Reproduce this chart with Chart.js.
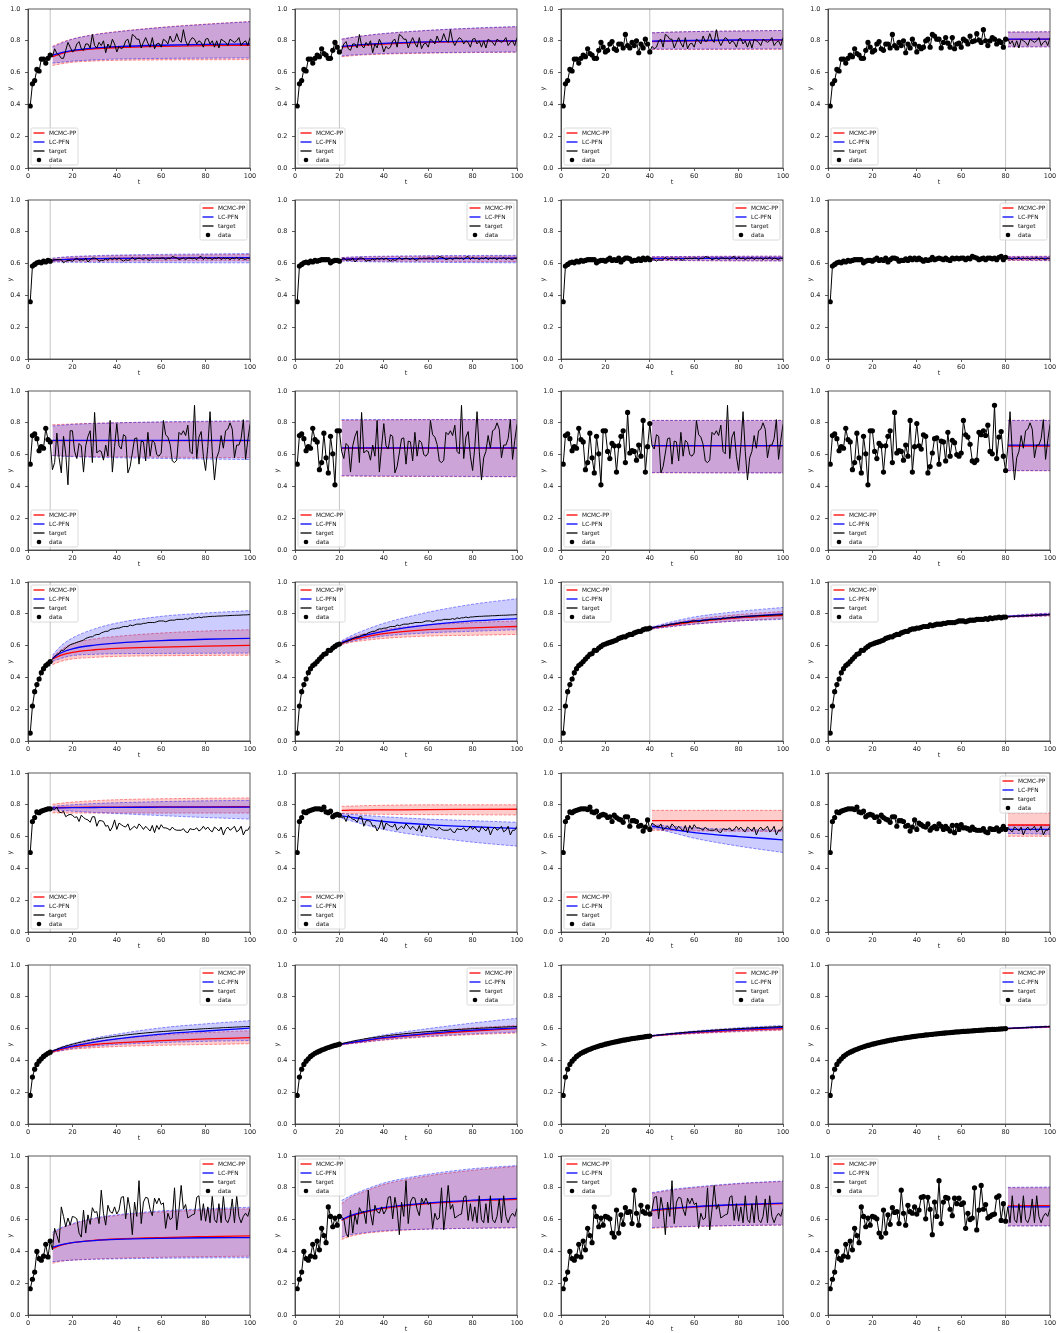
<!DOCTYPE html>
<html><head><meta charset="utf-8">
<script src="https://cdn.jsdelivr.net/npm/chart.js@4.4.1/dist/chart.umd.min.js"></script>
<style>
html,body{margin:0;padding:0;background:#fff;}
#fig{position:relative;width:1058px;height:1333px;overflow:hidden;}
canvas{position:absolute;}
</style></head><body><div id="fig"></div>
<script>
// ---------------- data ----------------
const cutoffs = [10, 20, 40, 80];
const predT = [[11,15,20,30,40,60,80,100],[21,25,30,40,60,80,100],[41,50,60,80,100],[81,90,100]];
const xTicks = [0, 20, 40, 60, 80, 100];
const yTicks = [0, 0.2, 0.4, 0.6, 0.8, 1.0];
const seriesNames = ['MCMC-PP', 'LC-PFN', 'target', 'data'];

const target1 = [0.39,0.53,0.55,0.62,0.61,0.685,0.685,0.66,0.69,0.71,
0.70,0.75,0.72,0.71,0.69,0.69,0.74,0.79,0.76,0.73,
0.74,0.78,0.795,0.75,0.74,0.78,0.78,0.755,0.84,0.77,
0.755,0.79,0.77,0.80,0.725,0.78,0.755,0.81,0.78,0.73,
0.765,0.75,0.76,0.80,0.81,0.76,0.84,0.83,0.81,0.81,
0.755,0.79,0.82,0.785,0.76,0.82,0.75,0.78,0.785,0.76,
0.81,0.80,0.78,0.83,0.795,0.80,0.845,0.805,0.79,0.87,
0.80,0.77,0.80,0.82,0.81,0.78,0.80,0.79,0.76,0.81,
0.815,0.78,0.80,0.76,0.80,0.755,0.81,0.80,0.79,0.77,
0.81,0.80,0.79,0.80,0.82,0.77,0.79,0.80,0.77,0.82];
const target2 = [0.36,0.585,0.595,0.605,0.61,0.605,0.615,0.61,0.62,0.615,
0.62,0.625,0.625,0.625,0.625,0.605,0.615,0.62,0.62,0.615,
0.625,0.635,0.62,0.625,0.62,0.635,0.61,0.625,0.635,0.635,
0.63,0.615,0.62,0.62,0.63,0.62,0.635,0.625,0.635,0.625,
0.635,0.625,0.615,0.625,0.62,0.625,0.64,0.625,0.63,0.635,
0.63,0.625,0.635,0.625,0.62,0.635,0.63,0.635,0.63,0.635,
0.635,0.625,0.635,0.63,0.645,0.64,0.635,0.625,0.63,0.635,
0.625,0.635,0.635,0.63,0.635,0.625,0.64,0.645,0.625,0.64,
0.63,0.635,0.625,0.635,0.63,0.64,0.625,0.635,0.63,0.635,
0.625,0.635,0.63,0.64,0.625,0.635,0.63,0.625,0.635,0.63];
const target3 = [0.54,0.72,0.73,0.70,0.625,0.65,0.64,0.765,0.695,0.68,
0.505,0.55,0.735,0.58,0.485,0.715,0.605,0.41,0.75,0.75,
0.62,0.575,0.67,0.655,0.49,0.655,0.715,0.75,0.55,0.865,
0.61,0.625,0.62,0.565,0.66,0.59,0.815,0.49,0.65,0.795,
0.655,0.635,0.725,0.715,0.485,0.525,0.61,0.70,0.705,0.54,
0.685,0.68,0.56,0.74,0.59,0.69,0.675,0.60,0.59,0.61,
0.815,0.725,0.71,0.665,0.56,0.55,0.565,0.74,0.725,0.75,
0.72,0.785,0.62,0.605,0.91,0.575,0.71,0.745,0.59,0.50,
0.65,0.87,0.62,0.44,0.58,0.62,0.72,0.64,0.75,0.76,
0.80,0.76,0.58,0.66,0.66,0.70,0.82,0.57,0.69,0.79];
const target4 = [0.05,0.22,0.31,0.355,0.39,0.43,0.455,0.475,0.485,0.50,
0.515,0.53,0.545,0.55,0.57,0.57,0.585,0.595,0.605,0.61,
0.615,0.62,0.625,0.63,0.635,0.645,0.65,0.655,0.655,0.665,
0.67,0.67,0.68,0.685,0.69,0.69,0.70,0.705,0.705,0.71,
0.71,0.715,0.72,0.72,0.72,0.73,0.725,0.73,0.735,0.735,
0.735,0.74,0.74,0.745,0.745,0.745,0.745,0.75,0.755,0.755,
0.755,0.75,0.755,0.76,0.76,0.76,0.765,0.765,0.765,0.765,
0.77,0.765,0.775,0.77,0.775,0.775,0.78,0.775,0.78,0.78,
0.782,0.783,0.784,0.784,0.785,0.786,0.786,0.787,0.788,0.788,
0.789,0.79,0.79,0.791,0.791,0.792,0.793,0.793,0.794,0.795];
const target5 = [0.50,0.695,0.72,0.755,0.75,0.76,0.765,0.77,0.775,0.775,
0.775,0.77,0.785,0.755,0.75,0.76,0.725,0.735,0.74,0.735,
0.72,0.725,0.695,0.735,0.72,0.71,0.705,0.69,0.725,0.725,
0.665,0.70,0.70,0.695,0.665,0.67,0.635,0.66,0.705,0.645,
0.685,0.675,0.665,0.66,0.68,0.64,0.655,0.665,0.65,0.68,
0.665,0.645,0.665,0.65,0.635,0.67,0.625,0.67,0.645,0.675,
0.655,0.655,0.65,0.64,0.66,0.645,0.64,0.64,0.64,0.65,
0.63,0.625,0.65,0.645,0.645,0.655,0.635,0.645,0.665,0.645,
0.66,0.64,0.63,0.66,0.65,0.635,0.66,0.61,0.645,0.66,
0.64,0.65,0.665,0.63,0.64,0.665,0.61,0.64,0.64,0.665];
const target6 = [0.18,0.295,0.345,0.375,0.395,0.41,0.425,0.435,0.445,0.452,
0.458,0.465,0.47,0.476,0.481,0.486,0.49,0.494,0.498,0.502,
0.505,0.509,0.512,0.515,0.518,0.521,0.524,0.527,0.529,0.532,
0.534,0.537,0.539,0.541,0.543,0.545,0.547,0.549,0.551,0.553,
0.555,0.556,0.558,0.56,0.561,0.563,0.564,0.566,0.567,0.569,
0.57,0.571,0.573,0.574,0.575,0.576,0.578,0.579,0.58,0.581,
0.582,0.583,0.584,0.585,0.586,0.587,0.588,0.589,0.59,0.591,
0.592,0.593,0.594,0.595,0.595,0.596,0.597,0.598,0.599,0.6,
0.6,0.601,0.602,0.603,0.603,0.604,0.605,0.606,0.606,0.607,
0.608,0.608,0.609,0.61,0.61,0.611,0.612,0.612,0.613,0.613];
const target7 = [0.165,0.225,0.27,0.40,0.355,0.345,0.37,0.445,0.365,0.465,
0.41,0.545,0.50,0.455,0.68,0.62,0.555,0.61,0.565,0.62,
0.615,0.605,0.515,0.49,0.66,0.515,0.63,0.57,0.675,0.645,
0.65,0.575,0.785,0.64,0.565,0.69,0.65,0.64,0.68,0.635,
0.66,0.74,0.745,0.605,0.74,0.665,0.505,0.71,0.62,0.845,
0.575,0.71,0.74,0.735,0.665,0.625,0.735,0.70,0.735,0.695,
0.705,0.545,0.64,0.60,0.61,0.80,0.535,0.66,0.815,0.665,
0.695,0.61,0.62,0.63,0.635,0.74,0.75,0.595,0.70,0.59,
0.68,0.58,0.75,0.60,0.58,0.70,0.58,0.75,0.60,0.58,
0.62,0.73,0.58,0.75,0.62,0.58,0.62,0.64,0.62,0.67];
const targets = [target1, target2, target3, target4, target5, target6, target7];

// predictions: [row][col] -> values at predT[col]
const mcmcMean = [
 [[0.70,0.72,0.735,0.75,0.757,0.765,0.77,0.772],[0.76,0.765,0.772,0.78,0.79,0.795,0.798],[0.795,0.798,0.80,0.803,0.805],[0.808,0.809,0.81]],
 [[0.622,0.625,0.628,0.63,0.632,0.634,0.635,0.636],[0.628,0.629,0.63,0.631,0.632,0.633,0.633],[0.632,0.632,0.633,0.633,0.633],[0.632,0.632,0.632]],
 [[0.688,0.688,0.688,0.688,0.688,0.688,0.688,0.688],[0.64,0.64,0.64,0.64,0.64,0.64,0.64],[0.655,0.655,0.655,0.655,0.655],[0.654,0.654,0.654]],
 [[0.515,0.54,0.558,0.574,0.583,0.591,0.597,0.602],[0.615,0.635,0.65,0.675,0.70,0.712,0.72],[0.71,0.73,0.75,0.775,0.79],[0.782,0.788,0.795]],
 [[0.782,0.783,0.784,0.785,0.786,0.787,0.787,0.788],[0.765,0.766,0.767,0.768,0.77,0.771,0.772],[0.70,0.70,0.70,0.70,0.70],[0.673,0.673,0.673]],
 [[0.455,0.47,0.485,0.50,0.51,0.525,0.535,0.543],[0.502,0.51,0.52,0.54,0.565,0.585,0.60],[0.554,0.565,0.575,0.59,0.60],[0.60,0.606,0.611]],
 [[0.418,0.44,0.455,0.47,0.478,0.487,0.493,0.498],[0.595,0.62,0.64,0.67,0.70,0.718,0.728],[0.655,0.668,0.678,0.692,0.70],[0.686,0.687,0.688]]
];
const mcmcLo = [
 [[0.645,0.655,0.665,0.673,0.677,0.68,0.681,0.682],[0.70,0.705,0.71,0.716,0.722,0.726,0.728],[0.745,0.745,0.745,0.746,0.746],[0.762,0.762,0.762]],
 [[0.612,0.613,0.614,0.615,0.616,0.617,0.618,0.618],[0.618,0.617,0.616,0.615,0.614,0.613,0.612],[0.62,0.619,0.618,0.617,0.617],[0.62,0.619,0.618]],
 [[0.594,0.592,0.59,0.588,0.586,0.584,0.582,0.581],[0.465,0.465,0.464,0.463,0.462,0.461,0.46],[0.485,0.485,0.485,0.485,0.485],[0.498,0.498,0.498]],
 [[0.48,0.502,0.516,0.526,0.532,0.536,0.538,0.539],[0.605,0.62,0.63,0.645,0.66,0.665,0.67],[0.705,0.72,0.735,0.755,0.77],[0.778,0.782,0.787]],
 [[0.75,0.749,0.748,0.748,0.748,0.748,0.748,0.748],[0.745,0.744,0.742,0.74,0.738,0.737,0.736],[0.64,0.638,0.636,0.634,0.632],[0.602,0.602,0.602]],
 [[0.45,0.46,0.47,0.48,0.487,0.495,0.50,0.505],[0.498,0.505,0.512,0.527,0.548,0.562,0.572],[0.552,0.56,0.568,0.58,0.59],[0.599,0.603,0.607]],
 [[0.325,0.338,0.345,0.352,0.357,0.363,0.367,0.37],[0.475,0.495,0.51,0.525,0.54,0.545,0.548],[0.545,0.552,0.556,0.562,0.565],[0.56,0.561,0.562]]
];
const mcmcHi = [
 [[0.765,0.79,0.812,0.84,0.858,0.885,0.905,0.922],[0.81,0.82,0.83,0.845,0.865,0.878,0.888],[0.85,0.855,0.858,0.862,0.865],[0.855,0.856,0.857]],
 [[0.632,0.638,0.642,0.647,0.65,0.653,0.655,0.657],[0.638,0.64,0.642,0.644,0.646,0.647,0.648],[0.643,0.644,0.645,0.646,0.646],[0.645,0.646,0.647]],
 [[0.788,0.79,0.793,0.797,0.80,0.804,0.807,0.81],[0.815,0.816,0.817,0.818,0.82,0.82,0.82],[0.815,0.815,0.815,0.815,0.815],[0.815,0.815,0.815]],
 [[0.53,0.575,0.612,0.642,0.658,0.679,0.692,0.70],[0.625,0.65,0.67,0.70,0.73,0.745,0.755],[0.715,0.74,0.765,0.795,0.815],[0.785,0.795,0.803]],
 [[0.803,0.81,0.817,0.826,0.832,0.838,0.841,0.843],[0.79,0.792,0.794,0.797,0.80,0.80,0.80],[0.765,0.765,0.765,0.765,0.765],[0.748,0.748,0.748]],
 [[0.46,0.48,0.495,0.52,0.535,0.56,0.575,0.587],[0.505,0.515,0.527,0.55,0.58,0.605,0.62],[0.556,0.57,0.582,0.60,0.612],[0.602,0.609,0.616]],
 [[0.505,0.545,0.57,0.605,0.625,0.648,0.66,0.668],[0.70,0.74,0.77,0.82,0.875,0.91,0.935],[0.765,0.785,0.80,0.825,0.84],[0.80,0.80,0.80]]
];
const pfnMean = [
 [[0.71,0.725,0.74,0.755,0.763,0.772,0.777,0.78],[0.765,0.77,0.776,0.784,0.793,0.798,0.80],[0.798,0.80,0.802,0.805,0.806],[0.81,0.81,0.81]],
 [[0.622,0.625,0.628,0.631,0.633,0.635,0.636,0.637],[0.628,0.629,0.63,0.631,0.632,0.633,0.634],[0.632,0.633,0.633,0.634,0.634],[0.633,0.633,0.633]],
 [[0.69,0.69,0.69,0.69,0.69,0.69,0.69,0.69],[0.642,0.642,0.642,0.642,0.642,0.642,0.642],[0.656,0.656,0.656,0.656,0.656],[0.66,0.66,0.66]],
 [[0.52,0.555,0.58,0.603,0.616,0.631,0.64,0.646],[0.62,0.64,0.66,0.69,0.73,0.755,0.77],[0.712,0.735,0.755,0.78,0.80],[0.783,0.789,0.796]],
 [[0.78,0.781,0.782,0.783,0.784,0.785,0.786,0.786],[0.73,0.722,0.712,0.695,0.675,0.662,0.652],[0.665,0.645,0.625,0.60,0.58],[0.645,0.645,0.645]],
 [[0.458,0.475,0.49,0.515,0.535,0.565,0.585,0.603],[0.503,0.512,0.522,0.543,0.57,0.59,0.605],[0.555,0.567,0.578,0.595,0.608],[0.601,0.607,0.612]],
 [[0.425,0.442,0.455,0.468,0.475,0.482,0.486,0.487],[0.60,0.625,0.645,0.675,0.705,0.722,0.733],[0.66,0.672,0.682,0.695,0.703],[0.68,0.68,0.68]]
];
const pfnLo = [
 [[0.66,0.665,0.672,0.68,0.685,0.689,0.691,0.692],[0.705,0.71,0.714,0.72,0.725,0.728,0.73],[0.748,0.748,0.748,0.749,0.75],[0.762,0.762,0.762]],
 [[0.61,0.609,0.608,0.607,0.606,0.606,0.605,0.605],[0.616,0.614,0.612,0.61,0.608,0.606,0.605],[0.621,0.62,0.619,0.618,0.617],[0.622,0.621,0.62]],
 [[0.594,0.59,0.587,0.583,0.58,0.576,0.572,0.569],[0.468,0.467,0.466,0.465,0.464,0.463,0.462],[0.488,0.487,0.486,0.485,0.485],[0.50,0.50,0.50]],
 [[0.50,0.52,0.537,0.545,0.549,0.551,0.552,0.553],[0.61,0.625,0.64,0.66,0.68,0.69,0.70],[0.705,0.72,0.735,0.755,0.765],[0.779,0.783,0.788]],
 [[0.768,0.765,0.76,0.752,0.745,0.732,0.72,0.71],[0.715,0.70,0.68,0.645,0.60,0.565,0.54],[0.655,0.625,0.59,0.54,0.50],[0.62,0.618,0.615]],
 [[0.452,0.462,0.475,0.49,0.50,0.512,0.52,0.525],[0.498,0.505,0.513,0.53,0.552,0.567,0.578],[0.553,0.562,0.57,0.584,0.594],[0.599,0.604,0.608]],
 [[0.335,0.34,0.345,0.35,0.353,0.357,0.359,0.36],[0.49,0.505,0.515,0.53,0.54,0.545,0.55],[0.55,0.555,0.558,0.563,0.566],[0.56,0.56,0.56]]
];
const pfnHi = [
 [[0.76,0.785,0.81,0.838,0.856,0.883,0.903,0.92],[0.81,0.82,0.83,0.846,0.866,0.88,0.89],[0.85,0.855,0.858,0.862,0.865],[0.855,0.856,0.857]],
 [[0.634,0.64,0.645,0.65,0.654,0.658,0.661,0.663],[0.638,0.641,0.644,0.647,0.65,0.651,0.652],[0.643,0.644,0.645,0.646,0.647],[0.643,0.644,0.645]],
 [[0.78,0.785,0.79,0.796,0.80,0.806,0.81,0.813],[0.82,0.82,0.82,0.82,0.82,0.82,0.82],[0.815,0.815,0.815,0.815,0.815],[0.815,0.815,0.815]],
 [[0.54,0.60,0.648,0.705,0.742,0.784,0.805,0.82],[0.63,0.66,0.69,0.74,0.81,0.86,0.895],[0.718,0.75,0.78,0.815,0.84],[0.787,0.797,0.805]],
 [[0.79,0.795,0.80,0.808,0.813,0.82,0.825,0.828],[0.745,0.74,0.735,0.725,0.71,0.70,0.69],[0.675,0.665,0.655,0.645,0.64],[0.668,0.67,0.672]],
 [[0.462,0.485,0.505,0.54,0.565,0.605,0.63,0.65],[0.506,0.518,0.532,0.56,0.60,0.635,0.665],[0.557,0.572,0.585,0.605,0.62],[0.603,0.61,0.617]],
 [[0.52,0.55,0.575,0.61,0.63,0.655,0.668,0.678],[0.72,0.75,0.78,0.83,0.885,0.92,0.94],[0.77,0.79,0.805,0.828,0.843],[0.803,0.804,0.805]]
];

// legend placement per panel (style)
const legendLoc = [
 ['ll','ll','ll','ll'],
 ['ur','ur','ur','ur'],
 ['ll','ll','ll','ll'],
 ['ul','ul','ul','ul'],
 ['ll','ll','ll','ur'],
 ['ur','ur','ur','ur'],
 ['ur','ul','ul','ul']
];

// ---------------- drawing ----------------
const FONT = 'DejaVu Sans';
const RED = '#ff0000', BLUE = '#0000ff';

const framePlugin = {
  id: 'frame',
  afterDatasetsDraw(chart) {
    const {ctx, chartArea: a} = chart;
    ctx.save();
    ctx.strokeStyle = '#333';
    ctx.lineWidth = 0.8;
    ctx.strokeRect(a.left, a.top, a.right - a.left, a.bottom - a.top);
    ctx.restore();
  }
};

const boxLegend = {
  id: 'boxLegend',
  afterDraw(chart, args, opts) {
    const {ctx, chartArea: a} = chart;
    const w = 47, h = 37, m = 3;
    const x = opts.loc[1] === 'l' ? a.left + m : a.right - m - w;
    const y = opts.loc[0] === 'u' ? a.top + m : a.bottom - m - h;
    ctx.save();
    ctx.fillStyle = 'rgba(255,255,255,0.8)';
    ctx.strokeStyle = '#d0d0d0';
    ctx.lineWidth = 0.8;
    ctx.beginPath();
    if (ctx.roundRect) ctx.roundRect(x, y, w, h, 1.5); else ctx.rect(x, y, w, h);
    ctx.fill(); ctx.stroke();
    const colors = [RED, BLUE, '#000', '#000'];
    ctx.font = '5.8px "' + FONT + '"';
    ctx.textBaseline = 'middle';
    ctx.textAlign = 'left';
    seriesNames.forEach((name, i) => {
      const yy = y + 5 + i * 9;
      ctx.strokeStyle = colors[i];
      ctx.fillStyle = colors[i];
      if (i < 3) {
        ctx.lineWidth = 1.3;
        ctx.beginPath(); ctx.moveTo(x + 2.5, yy); ctx.lineTo(x + 13.5, yy); ctx.stroke();
      } else {
        ctx.beginPath(); ctx.arc(x + 8, yy, 2.3, 0, Math.PI * 2); ctx.fill();
      }
      ctx.fillStyle = '#111';
      ctx.fillText(name, x + 18, yy + 0.3);
    });
    ctx.restore();
  }
};

const fig = document.getElementById('fig');

function pts(arr, r, c) {
  return arr[r][c].map((v, i) => ({x: predT[c][i], y: v}));
}

function makeChart(r, c) {
  const W = 266, H = 191;
  const cv = document.createElement('canvas');
  cv.width = W; cv.height = H;
  cv.style.width = W + 'px'; cv.style.height = H + 'px';
  cv.style.left = Math.round(c * 266.67) + 'px';
  cv.style.top = Math.round(r * 191.1) + 'px';
  fig.appendChild(cv);

  const cut = cutoffs[c];
  const tgt = targets[r].map((v, i) => ({x: i + 1, y: v}));
  const obs = tgt.slice(0, cut);
  const meanLine = col => ({borderColor: col, borderWidth: 1.3, pointRadius: 0, cubicInterpolationMode: 'monotone', fill: false});
  const edge = col => ({borderColor: col, borderWidth: 0.8, borderDash: [3, 1.5], pointRadius: 0, cubicInterpolationMode: 'monotone'});

  const datasets = [
    {label: 'data', data: obs, showLine: false, pointRadius: 2.6, pointBackgroundColor: '#000', pointBorderWidth: 0, borderColor: '#000'},
    {label: 'target', data: tgt, borderColor: '#000', borderWidth: 1, pointRadius: 0, fill: false},
    Object.assign({label: 'LC-PFN', data: pts(pfnMean, r, c)}, meanLine(BLUE)),
    Object.assign({label: 'MCMC-PP', data: pts(mcmcMean, r, c)}, meanLine(RED)),
    Object.assign({label: 'pfnHi', data: pts(pfnHi, r, c), fill: {target: 5}, backgroundColor: 'rgba(0,0,255,0.2)'}, edge('rgba(0,0,255,0.55)')),
    Object.assign({label: 'pfnLo', data: pts(pfnLo, r, c), fill: false}, edge('rgba(0,0,255,0.55)')),
    Object.assign({label: 'mcmcHi', data: pts(mcmcHi, r, c), fill: {target: 7}, backgroundColor: 'rgba(255,0,0,0.2)'}, edge('rgba(255,0,0,0.55)')),
    Object.assign({label: 'mcmcLo', data: pts(mcmcLo, r, c), fill: false}, edge('rgba(255,0,0,0.55)')),
    {label: 'cutoff', data: [{x: cut, y: 0}, {x: cut, y: 1}], borderColor: '#c4c4c4', borderWidth: 1, pointRadius: 0, fill: false}
  ];

  const tickFont = {family: FONT, size: 6.5};
  new Chart(cv, {
    type: 'line',
    data: {datasets},
    plugins: [framePlugin, boxLegend],
    options: {
      responsive: false,
      animation: false,
      events: [],
      devicePixelRatio: 1,
      layout: {padding: {left: 0, top: 9, right: 16, bottom: 0}},
      plugins: {
        legend: {display: false},
        tooltip: {enabled: false},
        boxLegend: {loc: legendLoc[r][c]}
      },
      scales: {
        x: {
          type: 'linear', min: 0, max: 100,
          afterBuildTicks: s => { s.ticks = xTicks.map(v => ({value: v})); },
          afterFit: s => { s.height = 23; },
          ticks: {font: tickFont, color: '#222', padding: 1.5, maxRotation: 0, autoSkip: false, callback: v => String(v)},
          grid: {drawOnChartArea: false, drawTicks: true, tickLength: 3, tickColor: '#333', tickWidth: 0.8},
          border: {color: '#333', width: 0.8},
          title: {display: true, text: 't', font: {family: FONT, size: 6.5}, color: '#222', padding: {top: 0, bottom: 4.5}}
        },
        y: {
          type: 'linear', min: 0, max: 1,
          afterBuildTicks: s => { s.ticks = yTicks.map(v => ({value: v})); },
          afterFit: s => { s.width = 28; },
          ticks: {font: tickFont, color: '#222', padding: 4.5, autoSkip: false, callback: v => Number(v).toFixed(1)},
          grid: {drawOnChartArea: false, drawTicks: true, tickLength: 3, tickColor: '#333', tickWidth: 0.8},
          border: {color: '#333', width: 0.8},
          title: {display: true, text: 'y', font: {family: FONT, size: 6.5}, color: '#222', padding: {top: 6, bottom: 0}}
        }
      }
    }
  });
}

for (let r = 0; r < 7; r++) for (let c = 0; c < 4; c++) makeChart(r, c);
</script>
</body></html>
